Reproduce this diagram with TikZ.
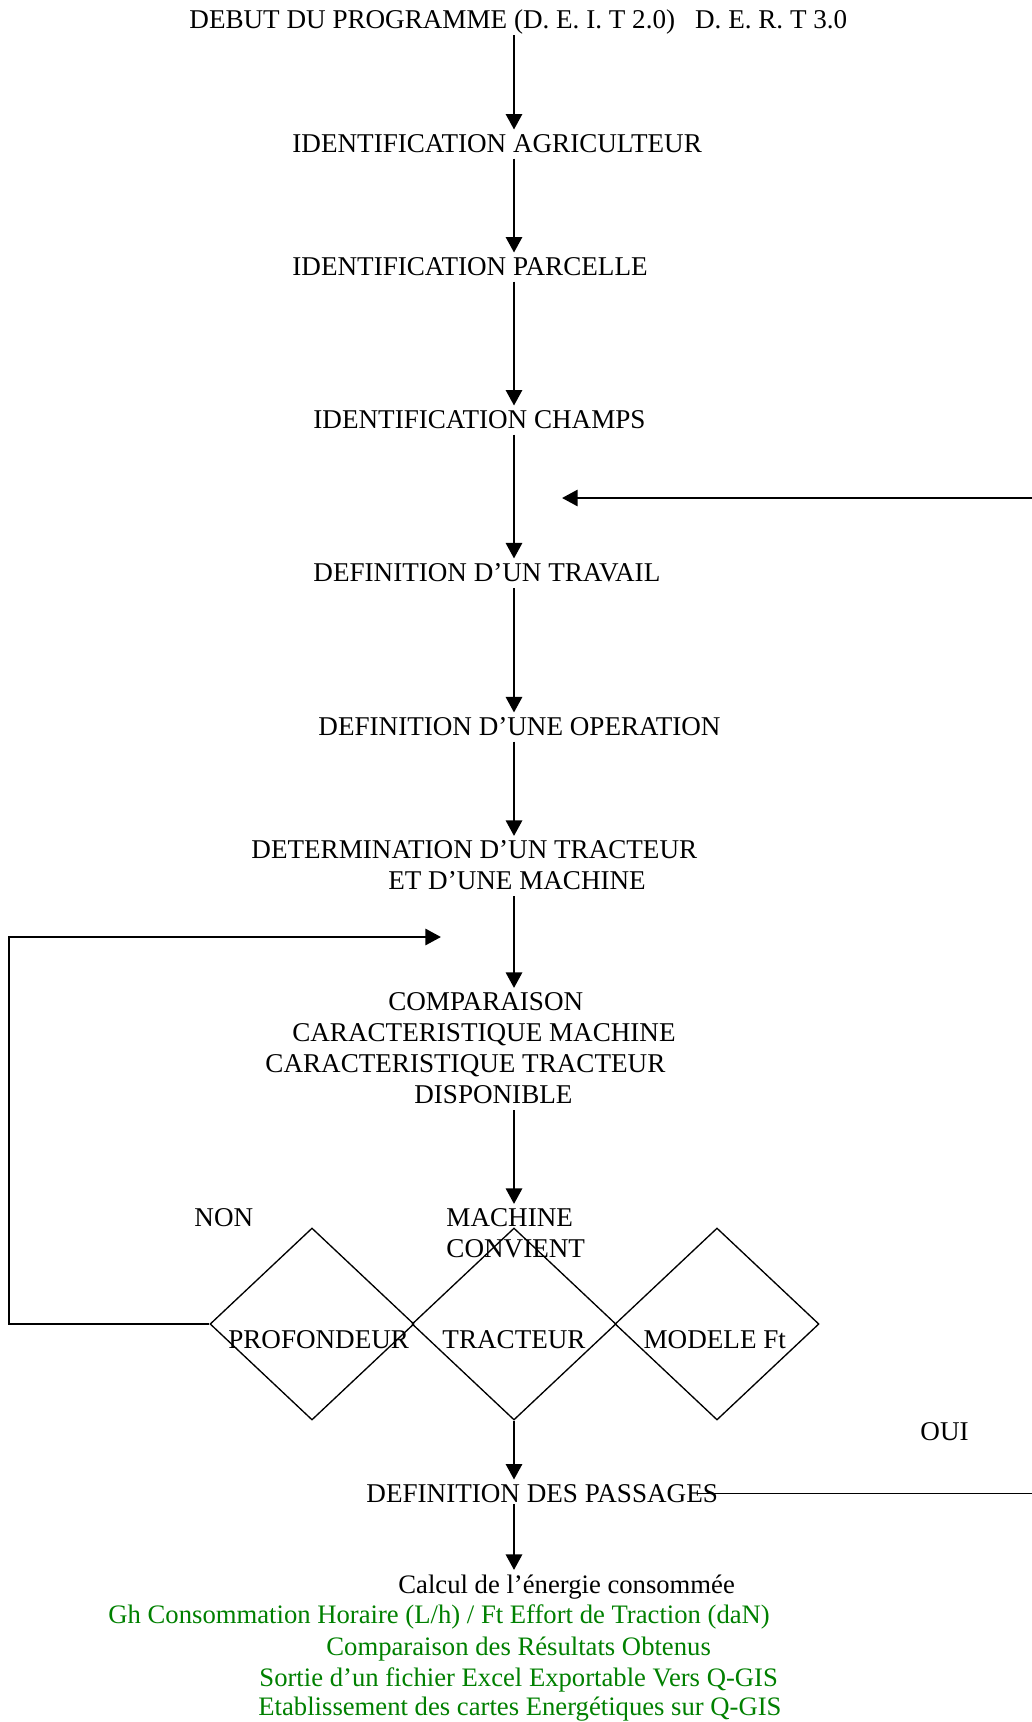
\documentclass[tikz,border=0pt]{standalone}
\usepackage{fontspec}
\setmainfont{Liberation Serif}
\usepackage{xcolor}
\definecolor{vertfonce}{RGB}{0,128,0}
\usetikzlibrary{shapes.geometric,arrows.meta}

\begin{document}
\begin{tikzpicture}[x=0.45pt,y=-0.45pt,font=\fontsize{12.2}{13.95}\selectfont]
  \tikzstyle{etape}=[inner sep=0pt,anchor=base west]
  \tikzstyle{bloc}=[inner sep=0pt,anchor=north west,align=left]
  \tikzstyle{resultat}=[etape,font=\fontsize{12}{13.95}\selectfont]
  \tikzstyle{losange}=[diamond,draw,line width=0.6pt,inner sep=0pt,minimum width=91.8pt,minimum height=86.4pt]
  \tikzstyle{dans}=[inner sep=0pt,anchor=base]
  \tikzstyle{fleche}=[line width=1.3pt,-{Triangle[length=7pt,width=7.2pt]},shorten <=2.7pt,shorten >=1.8pt]
  \tikzstyle{retour}=[line width=1.2pt,-{Triangle[length=7pt,width=7.2pt]}]
  \useasboundingbox (0,0) rectangle (1032,1722);
  \coordinate (axe) at (514,0);

  % enchainement principal
  \node[etape] (debut) at (189,29) {DEBUT DU PROGRAMME (D. E. I. T 2.0)\hspace{9pt}D. E. R. T 3.0};
  \node[etape] (agri) at (292,152) {IDENTIFICATION AGRICULTEUR};
  \node[etape] (parcelle) at (292,275) {IDENTIFICATION PARCELLE};
  \node[etape] (champs) at (313,428) {IDENTIFICATION CHAMPS};
  \node[etape] (travail) at (313,581) {DEFINITION D’UN TRAVAIL};
  \node[etape] (operation) at (318,735) {DEFINITION D’UNE OPERATION};
  \node[bloc] (tracteur) at (251,840) {DETERMINATION D’UN TRACTEUR\\\hspace*{61.6pt}ET D’UNE MACHINE};
  \node[bloc] (comparaison) at (265,992) {\hspace*{55.3pt}COMPARAISON\\\hspace*{12.1pt}CARACTERISTIQUE MACHINE\\CARACTERISTIQUE TRACTEUR\\\hspace*{67pt}DISPONIBLE};

  % test de la machine
  \node[etape] (non) at (194,1226) {NON};
  \node[bloc] (convient) at (446,1208) {MACHINE\\CONVIENT};
  \node[losange] (dprof) at (312,1324) {};
  \node[losange] (dtrac) at (514,1324) {};
  \node[losange] (dmod) at (717,1324) {};
  \node[dans] (tprof) at ([xshift=3pt,yshift=-11pt]dprof.center) {PROFONDEUR};
  \node[dans] (ttrac) at ([yshift=-11pt]dtrac.center) {TRACTEUR};
  \node[dans] (tmod) at ([xshift=-1pt,yshift=-11pt]dmod.center) {MODELE Ft};
  \node[etape] (oui) at (920,1440) {OUI};

  \node[etape] (passages) at (366,1502) {DEFINITION DES PASSAGES};
  \node[resultat] (calcul) at (398,1593) {Calcul de l’énergie consommée};
  \node[resultat,text=vertfonce] (gh) at (108,1623) {Gh Consommation Horaire (L/h) / Ft Effort de Traction (daN)};
  \node[resultat,text=vertfonce] (resultats) at (326,1655) {Comparaison des Résultats Obtenus};
  \node[resultat,text=vertfonce] (excel) at (259,1686) {Sortie d’un fichier Excel Exportable Vers Q-GIS};
  \node[resultat,text=vertfonce] (cartes) at (258,1715) {Etablissement des cartes Energétiques sur Q-GIS};

  \draw[fleche,shorten <=0pt] (debut.south -| axe) -- (agri.north -| axe);
  \draw[fleche] (agri.south -| axe) -- (parcelle.north -| axe);
  \draw[fleche] (parcelle.south -| axe) -- (champs.north -| axe);
  \draw[fleche] (champs.south -| axe) -- (travail.north -| axe);
  \draw[fleche] (travail.south -| axe) -- (operation.north -| axe);
  \draw[fleche] (operation.south -| axe) -- (tracteur.north -| axe);
  \draw[fleche] (tracteur.south -| axe) -- (comparaison.north -| axe);
  \draw[fleche] (comparaison.south -| axe) -- (convient.north -| axe);
  \draw[fleche,shorten <=0pt] (dtrac.south) -- (passages.north -| axe);
  \draw[fleche,shorten <=0.5pt] (passages.south -| axe) -- (calcul.north -| axe);

  % boucles de retour
  \coordinate (bordg) at (9,937);
  \coordinate (verscomp) at (441,937);
  \draw[retour] (dprof.west) -| (bordg) -- (verscomp);
  \coordinate (bordd) at (1040,498);
  \coordinate (verstrav) at (562,498);
  \draw[line width=0.6pt] ([xshift=-9.5pt]passages.east) -| (bordd);
  \draw[retour] (bordd) -- (verstrav);
\end{tikzpicture}
\end{document}
